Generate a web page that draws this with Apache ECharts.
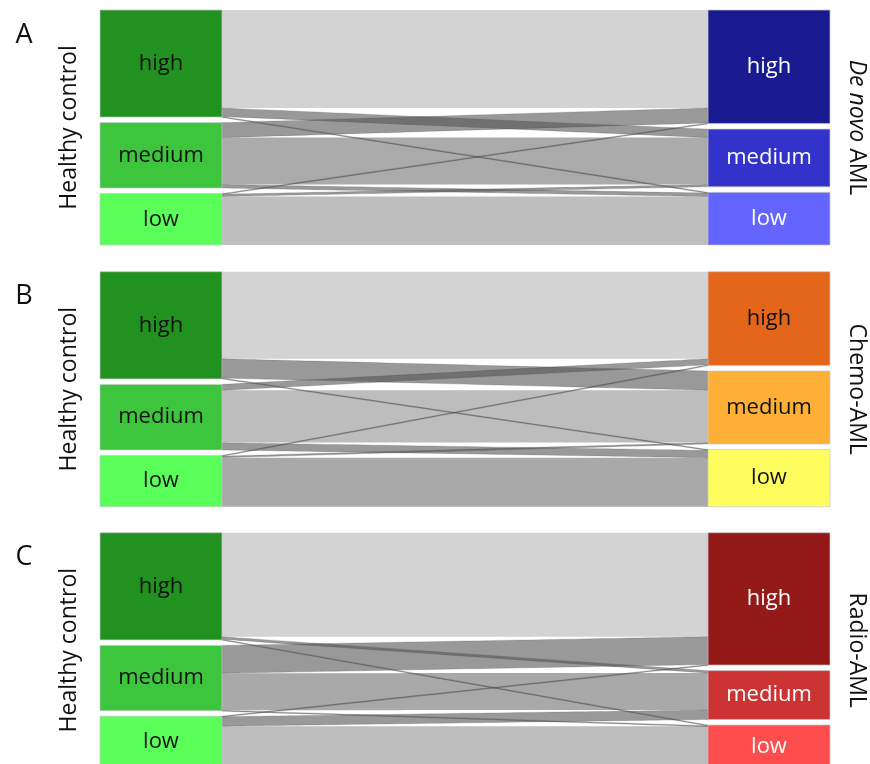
<!DOCTYPE html>
<html>
<head>
<meta charset="utf-8">
<title>Healthy control vs AML expression groups</title>
<script src="https://cdn.jsdelivr.net/npm/echarts@6/dist/echarts.min.js"></script>
<style>
  html, body { margin: 0; padding: 0; background: #ffffff; }
  #chart { width: 870px; height: 764px; }
</style>
</head>
<body>
<div id="chart"></div>
<script>
// Expression levels, shared by both sides of every panel
const levels = ['high', 'medium', 'low'];

// Left-hand group of every panel
const controlName = 'Healthy control';

// Panel letters and the AML cohort drawn on the right of each
const panelLetters = ['A', 'B', 'C'];
const cohortNames = ['De novo AML', 'Chemo-AML', 'Radio-AML'];

// Flow sizes: rows = healthy-control level, columns = AML level (high, medium, low)
const flowsDeNovo = [
  [98.0, 8.5, 0.7],
  [15.0, 47.0, 3.5],
  [0.7, 2.3, 48.5]
];
const flowsChemo = [
  [86.7, 19.2, 0.8],
  [6.0, 52.0, 7.3],
  [0.7, 1.5, 48.8]
];
const flowsRadio = [
  [103.5, 2.5, 0.7],
  [27.8, 36.7, 0.5],
  [0.5, 9.5, 41.3]
];
const panelFlows = [flowsDeNovo, flowsChemo, flowsRadio];

// ---- styling ----
const FONT = '"Open Sans", "Liberation Sans", sans-serif';
const controlColors = ['#21911f', '#3dc63d', '#59fe59'];
const cohortColors = [
  ['#1b1b91', '#3333cc', '#6464fe'],
  ['#e3661b', '#fdb035', '#fefe5f'],
  ['#941a1a', '#cc3434', '#fe4d4d']
];
const cohortLabelColors = [
  ['#ffffff', '#ffffff', '#ffffff'],
  ['#111111', '#111111', '#111111'],
  ['#ffffff', '#ffffff', '#ffffff']
];
// shades of the bands that keep their level (high->high, medium->medium, low->low)
const stayShades = [
  ['#d3d3d3', '#ababab', '#bebebe'],
  ['#d3d3d3', '#bdbdbd', '#a9a9a9'],
  ['#d3d3d3', '#a9a9a9', '#bdbdbd']
];
const panelTops = [10, 271.7, 532.7];
const panelHeight = 235;

const SEP = '\u0001';

function buildSeries(p) {
  const flows = panelFlows[p];
  const nodes = [];
  levels.forEach((lv, i) => {
    nodes.push({
      name: 'L' + SEP + lv,
      itemStyle: { color: controlColors[i] },
      label: { color: '#111111' }
    });
  });
  levels.forEach((lv, j) => {
    nodes.push({
      name: 'R' + SEP + lv,
      itemStyle: { color: cohortColors[p][j] },
      label: { color: cohortLabelColors[p][j] }
    });
  });
  const stay = [];
  const moves = [];
  levels.forEach((src, i) => {
    levels.forEach((dst, j) => {
      const link = {
        source: 'L' + SEP + src,
        target: 'R' + SEP + dst,
        value: flows[i][j]
      };
      if (i === j) {
        link.lineStyle = { color: stayShades[p][i], opacity: 1 };
        stay.push(link);
      } else {
        link.lineStyle = {
          color: 'rgb(85,85,85)',
          opacity: 0.6,
          borderColor: 'rgba(60,60,60,0.55)',
          borderWidth: 0.6
        };
        moves.push(link);
      }
    });
  });
  return {
    type: 'sankey',
    left: 100,
    right: 40,
    top: panelTops[p],
    height: panelHeight,
    nodeWidth: 122,
    nodeGap: 5.5,
    layoutIterations: 0,
    nodeAlign: 'justify',
    draggable: false,
    silent: true,
    emphasis: { disabled: true },
    animation: false,
    itemStyle: { borderColor: 'rgba(200,200,200,0.7)', borderWidth: 1 },
    lineStyle: { curveness: 0 },
    label: {
      show: true,
      position: 'inside',
      fontFamily: FONT,
      fontSize: 22,
      formatter: (prm) => prm.name.split(SEP)[1]
    },
    data: nodes,
    links: stay.concat(moves)
  };
}

const series = panelFlows.map((_, p) => buildSeries(p));

const graphics = [];
panelLetters.forEach((letter, p) => {
  const cy = panelTops[p] + panelHeight / 2;
  graphics.push({
    type: 'text',
    x: 24,
    y: panelTops[p] + 25,
    style: {
      text: letter,
      fontFamily: FONT,
      fontSize: 27,
      fill: '#111111',
      align: 'center',
      verticalAlign: 'middle'
    }
  });
  graphics.push({
    type: 'text',
    x: 69,
    y: cy,
    rotation: Math.PI / 2,
    style: {
      text: controlName,
      fontFamily: FONT,
      fontSize: 23,
      fill: '#111111',
      align: 'center',
      verticalAlign: 'middle'
    }
  });
  const name = cohortNames[p];
  const italicPart = name.startsWith('De novo') ? 'De novo' : '';
  const text = italicPart
    ? '{i|' + italicPart + '}' + name.slice(italicPart.length)
    : name;
  graphics.push({
    type: 'text',
    x: 857,
    y: cy,
    rotation: -Math.PI / 2,
    style: {
      text: text,
      fontFamily: FONT,
      fontSize: 23,
      fill: '#111111',
      align: 'center',
      verticalAlign: 'middle',
      rich: {
        i: { fontStyle: 'italic', fontFamily: FONT, fontSize: 23, fill: '#111111' }
      }
    }
  });
});

const chart = echarts.init(document.getElementById('chart'), null, { renderer: 'canvas' });
chart.setOption({
  backgroundColor: '#ffffff',
  animation: false,
  tooltip: { show: false },
  series: series,
  graphic: graphics
});
</script>
</body>
</html>
